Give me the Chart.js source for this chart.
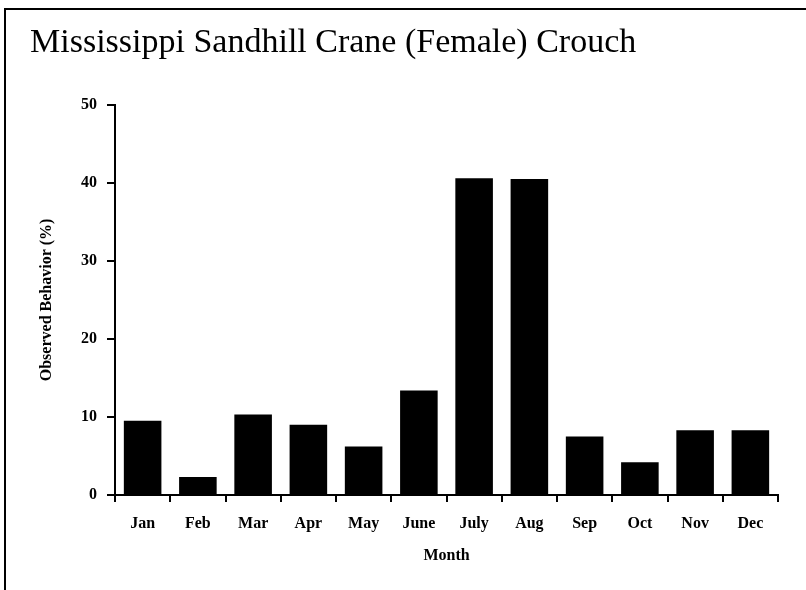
<!DOCTYPE html>
<html>
<head>
<meta charset="utf-8">
<script src="https://cdn.jsdelivr.net/npm/chart.js@4.4.0/dist/chart.umd.min.js"></script>
<style>
  html, body { margin: 0; padding: 0; background: #fff; }
  #wrap { position: relative; width: 806px; height: 590px; overflow: hidden; }
  #frame { position: absolute; left: 4px; top: 8px; width: 820px; height: 600px;
           border-top: 2px solid #000; border-left: 2px solid #000; pointer-events: none; }
  canvas { position: absolute; left: 0; top: 0; }
</style>
</head>
<body>
<div id="wrap">
  <canvas id="crouch" width="806" height="590"></canvas>
  <div id="frame"></div>
</div>
<script>
var months = ["Jan", "Feb", "Mar", "Apr", "May", "June", "July", "Aug", "Sep", "Oct", "Nov", "Dec"];
var crouchPct = [9.5, 2.3, 10.3, 9.0, 6.2, 13.4, 40.6, 40.5, 7.5, 4.2, 8.3, 8.3];
var yTicks = [0, 10, 20, 30, 40, 50];

var boldSerif = { family: "'Liberation Serif', 'Times New Roman', serif", size: 16, weight: 'bold' };

var ctx = document.getElementById("crouch").getContext('2d');

var crouchChart = new Chart(ctx, {
    type: 'bar',
    data: {
        labels: months,
        datasets: [{
            label: 'Crouch',
            data: crouchPct,
            backgroundColor: '#000',
            borderWidth: 0,
            barPercentage: 0.68,
            categoryPercentage: 1.0
        }]
    },
    options: {
        responsive: false,
        animation: false,
        devicePixelRatio: 1,
        layout: { padding: { left: 30, right: 28, top: 0, bottom: 25 } },
        plugins: {
            legend: { display: false },
            tooltip: { enabled: false },
            title: {
                display: true,
                text: 'Mississippi Sandhill Crane (Female) Crouch',
                align: 'start',
                color: '#000',
                font: { family: "'Liberation Serif', serif", size: 34, weight: 'normal' },
                padding: { top: 23, bottom: 41 }
            }
        },
        scales: {
            x: {
                grid: { display: true, drawOnChartArea: false, offset: true, color: '#000', lineWidth: 2, tickLength: 7 },
                border: { display: true, color: '#000', width: 2 },
                ticks: { color: '#000', font: boldSerif, padding: 12, maxRotation: 0 },
                title: { display: true, text: 'Month', color: '#000', font: boldSerif, padding: { top: 0, bottom: 0 } },
                afterFit: function (scale) { scale.height = 70; }
            },
            y: {
                min: 0,
                max: 50,
                afterBuildTicks: function (scale) {
                    scale.ticks = yTicks.map(function (v) { return { value: v }; });
                },
                grid: { display: true, drawOnChartArea: false, color: '#000', lineWidth: 2, tickLength: 8 },
                border: { display: true, color: '#000', width: 2 },
                ticks: { color: '#000', font: boldSerif, padding: 10 },
                title: { display: true, text: 'Observed Behavior (%)', color: '#000', font: boldSerif, padding: { top: 7, bottom: 0 } },
                afterFit: function (scale) { scale.width = 85; }
            }
        }
    }
});
</script>
</body>
</html>
